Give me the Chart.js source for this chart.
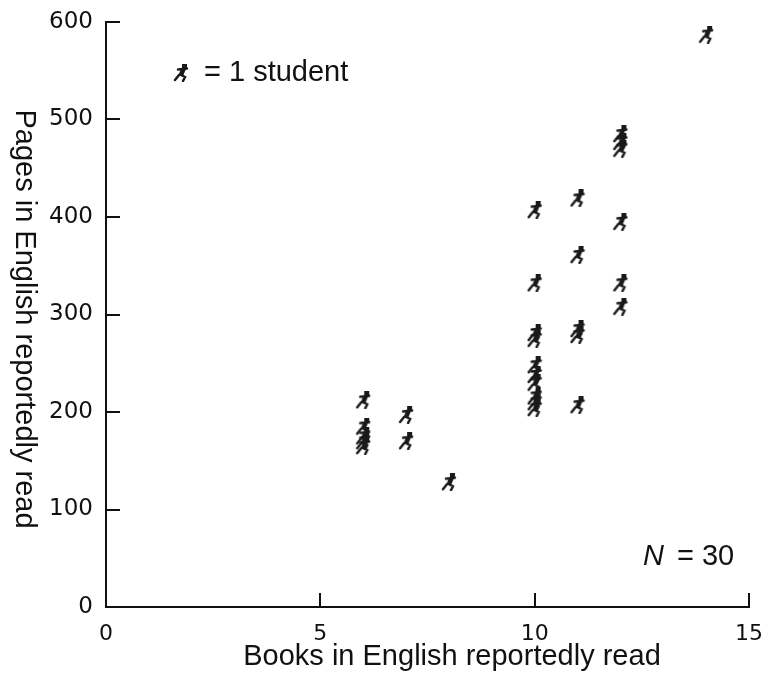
<!DOCTYPE html>
<html>
<head>
<meta charset="utf-8">
<script src="https://cdn.jsdelivr.net/npm/chart.js@4.4.1/dist/chart.umd.min.js"></script>
<style>
  html, body { margin: 0; padding: 0; background: #fff; }
  #wrap { width: 764px; height: 673px; }
</style>
</head>
<body>
<div id="wrap"><canvas id="c" width="764" height="673"></canvas></div>
<script>
// datos
const librosX = [6, 6, 6, 6, 6, 7, 7, 8,
  10, 10, 10, 10, 10, 10, 10, 10, 10, 10,
  11, 11, 11, 11, 11,
  12, 12, 12, 12, 12, 12,
  14];
const paginasY = [212, 185, 175, 170, 165, 197, 170, 128,
  407, 332, 281, 275, 248, 238, 230, 216, 210, 204,
  419, 361, 285, 279, 207,
  485, 477, 470, 395, 332, 308,
  587];
const ticksX = [0, 5, 10, 15];
const ticksY = [0, 100, 200, 300, 400, 500, 600];

const FUENTE = '"Liberation Sans", Arial, sans-serif';

// muñequito que corre, usado como marcador
function hacerMarcador() {
  const c = document.createElement('canvas');
  c.width = 16; c.height = 18;
  const g = c.getContext('2d');
  g.strokeStyle = '#1a1a1a';
  g.fillStyle = '#1a1a1a';
  g.lineCap = 'round';
  g.fillRect(9, 0, 5, 4);           // cabeza
  g.lineWidth = 2.5;
  g.beginPath();
  g.moveTo(5, 5.5); g.lineTo(14, 4.5); // brazos
  g.stroke();
  g.beginPath();                     // torso
  g.moveTo(8, 5); g.lineTo(13, 5); g.lineTo(10, 12); g.lineTo(5, 12);
  g.closePath(); g.fill();
  g.beginPath();
  g.moveTo(6, 11); g.lineTo(2, 16);  // pierna
  g.moveTo(8, 11); g.lineTo(12, 13);
  g.lineTo(10, 17);
  g.stroke();
  return c;
}
const marcador = hacerMarcador();

const puntos = librosX.map((x, i) => ({ x, y: paginasY[i] }));

const plugExtras = {
  id: 'extras',
  afterDraw(chart) {
    const ctx = chart.ctx;
    const sx = chart.scales.x, sy = chart.scales.y;
    ctx.save();
    ctx.strokeStyle = '#111';
    ctx.lineWidth = 2;
    // marcas hacia adentro
    ticksY.forEach(v => {
      const p = Math.round(sy.getPixelForValue(v));
      ctx.beginPath(); ctx.moveTo(sx.left, p); ctx.lineTo(sx.left + 14, p); ctx.stroke();
    });
    ticksX.forEach(v => {
      const p = Math.round(sx.getPixelForValue(v));
      ctx.beginPath(); ctx.moveTo(p, sy.bottom); ctx.lineTo(p, sy.bottom - 14); ctx.stroke();
    });
    ctx.fillStyle = '#111';
    ctx.font = '29px ' + FUENTE;
    ctx.textAlign = 'center';
    ctx.textBaseline = 'middle';
    // titulo del eje x
    ctx.fillText('Books in English reportedly read', 452, 657);
    // titulo del eje y, girado hacia abajo
    ctx.translate(24, 319);
    ctx.rotate(Math.PI / 2);
    ctx.fillText('Pages in English reportedly read', 0, 0);
    ctx.restore();

    // leyenda
    ctx.save();
    ctx.drawImage(marcador, 173, 64);
    ctx.fillStyle = '#111';
    ctx.font = '29px ' + FUENTE;
    ctx.textBaseline = 'middle';
    ctx.fillText('= 1 student', 204, 73);
    // N = 30
    ctx.font = 'italic 29px ' + FUENTE;
    ctx.fillText('N', 643, 557);
    ctx.font = '29px ' + FUENTE;
    ctx.fillText('= 30', 677, 557);
    ctx.restore();
  }
};

new Chart(document.getElementById('c'), {
  type: 'scatter',
  data: {
    datasets: [{
      data: puntos,
      pointStyle: marcador,
      pointRadius: 8,
      pointHoverRadius: 8
    }]
  },
  options: {
    responsive: false,
    animation: false,
    events: [],
    layout: { padding: { top: 22, right: 15, left: 0, bottom: 0 } },
    plugins: { legend: { display: false }, tooltip: { enabled: false } },
    scales: {
      x: {
        type: 'linear', min: 0, max: 15,
        afterBuildTicks(s) { s.ticks = ticksX.map(v => ({ value: v })); },
        afterFit(s) { s.height = 66; s.paddingLeft = 0; s.paddingRight = 0; },
        grid: { display: false, tickLength: 0 },
        border: { display: true, color: '#111', width: 2 },
        ticks: { padding: 14, color: '#111', font: { family: '"DejaVu Sans", Verdana, sans-serif', size: 22 } }
      },
      y: {
        type: 'linear', min: 0, max: 600,
        afterBuildTicks(s) { s.ticks = ticksY.map(v => ({ value: v })); },
        afterFit(s) { s.width = 106; s.paddingTop = 0; s.paddingBottom = 0; },
        grid: { display: false, tickLength: 0 },
        border: { display: true, color: '#111', width: 2 },
        ticks: { padding: 13, color: '#111', font: { family: '"DejaVu Sans", Verdana, sans-serif', size: 23 } }
      }
    }
  },
  plugins: [plugExtras]
});
</script>
</body>
</html>
